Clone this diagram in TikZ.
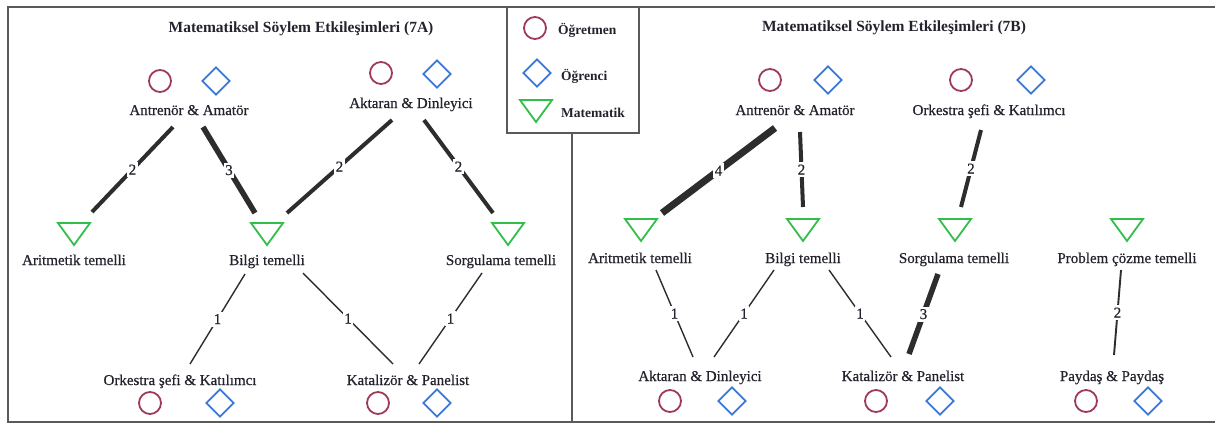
\documentclass[tikz,border=0pt]{standalone}
\usepackage{fontspec}
\setmainfont{Liberation Serif}
\newfontfamily\semibf[FakeBold=0.5]{Liberation Serif}
\usetikzlibrary{calc,shapes.geometric}
\definecolor{tcol}{RGB}{160,58,90}
\definecolor{scol}{RGB}{58,120,216}
\definecolor{mcol}{RGB}{50,190,75}
\definecolor{ecol}{RGB}{45,45,45}
\definecolor{fcol}{RGB}{90,90,90}
\definecolor{txt}{RGB}{35,35,45}
\begin{document}
\begin{tikzpicture}[x=1pt,y=-1pt,
 lbl/.style={inner sep=0pt, text height=10pt, text depth=0pt, text=txt, font=\semibf\fontsize{15}{18}\selectfont},
 ttl/.style={inner sep=0pt, text height=10pt, text depth=0pt, text=txt, font=\bfseries\fontsize{15.5}{18}\selectfont},
 leg/.style={inner sep=0pt, anchor=west, text height=9pt, text depth=0pt, text=txt, font=\bfseries\fontsize{13.5}{15}\selectfont},
 tch/.style={circle, draw=tcol, line width=1.8pt, minimum size=22pt, inner sep=0pt},
 std/.style={diamond, draw=scol, line width=1.8pt, minimum size=28pt, inner sep=0pt},
 mth/.style={inner sep=0pt, minimum size=1pt},
 tri/.style={draw=mcol, line width=1.8pt, line join=miter},
 elab/.style={fill=white, inner xsep=1.5pt, inner ysep=2.5pt, text height=10pt, text depth=0pt, text=txt, font=\semibf\fontsize{15}{17}\selectfont},
 ewa/.style={draw=ecol, line width=1.4pt},
 ewb/.style={draw=ecol, line width=1.9pt},
 ewc/.style={draw=ecol, line width=4pt},
 ewd/.style={draw=ecol, line width=5.5pt},
 ewe/.style={draw=ecol, line width=7pt},
 frame/.style={draw=fcol, line width=1.5pt}
]
\useasboundingbox (0,0) rectangle (1215,424);
\draw[frame] (8,7) rectangle (1230,422);
\draw[frame] (572,133) -- (572,422);
\draw[frame, fill=white] (507,7) rectangle (639,133);

% legend
\node[tch] (lgc) at (535,28) {};
\node[std] (lgd) at (537,73) {};
\node[mth] (lgt) at (536,111) {};
\node[leg] (lgct) at (558,30) {Öğretmen};
\node[leg] (lgdt) at (561,76) {Öğrenci};
\node[leg] (lgtt) at (561,113) {Matematik};

% titles
\node[ttl] (ttlA) at (301,27) {Matematiksel Söylem Etkileşimleri (7A)};
\node[ttl] (ttlB) at (894,26) {Matematiksel Söylem Etkileşimleri (7B)};

% ===== 7A =====
\node[lbl] (antA) at (189,110) {Antrenör \& Amatör};
\node[tch] (antAc) at (160,81) {};
\node[std] (antAd) at (216,81) {};
\node[lbl] (aktA) at (411,103) {Aktaran \& Dinleyici};
\node[tch] (aktAc) at (381,73) {};
\node[std] (aktAd) at (437,74) {};

\node[mth] (arA) at (74,234) {};
\node[mth] (bgA) at (267,234) {};
\node[mth] (soA) at (508,234) {};
\node[lbl] (arAl) at (74,260) {Aritmetik temelli};
\node[lbl] (bgAl) at (267,260) {Bilgi temelli};
\node[lbl] (soAl) at (501,260) {Sorgulama temelli};

\node[lbl] (orkA) at (180,380) {Orkestra şefi \& Katılımcı};
\node[tch] (orkAc) at (150,403) {};
\node[std] (orkAd) at (220,403) {};
\node[lbl] (katA) at (408,380) {Katalizör \& Panelist};
\node[tch] (katAc) at (378,403) {};
\node[std] (katAd) at (437,403) {};

% ===== 7B =====
\node[lbl] (antB) at (795,110) {Antrenör \& Amatör};
\node[tch] (antBc) at (770,80) {};
\node[std] (antBd) at (828,80) {};
\node[lbl] (orkB) at (989,110) {Orkestra şefi \& Katılımcı};
\node[tch] (orkBc) at (961,80) {};
\node[std] (orkBd) at (1031,80) {};

\node[mth] (arB) at (641,230) {};
\node[mth] (bgB) at (803,230) {};
\node[mth] (soB) at (955,230) {};
\node[mth] (prB) at (1127,230) {};
\node[lbl] (arBl) at (640,258) {Aritmetik temelli};
\node[lbl] (bgBl) at (803,258) {Bilgi temelli};
\node[lbl] (soBl) at (954,258) {Sorgulama temelli};
\node[lbl] (prBl) at (1127,258) {Problem çözme temelli};

\node[lbl] (aktB) at (700,376) {Aktaran \& Dinleyici};
\node[tch] (aktBc) at (670,401) {};
\node[std] (aktBd) at (732,401) {};
\node[lbl] (katB) at (903,376) {Katalizör \& Panelist};
\node[tch] (katBc) at (876,401) {};
\node[std] (katBd) at (940,401) {};
\node[lbl] (payB) at (1112,376) {Paydaş \& Paydaş};
\node[tch] (payBc) at (1086,401) {};
\node[std] (payBd) at (1148,401) {};

% triangles
\foreach \t in {lgt,arA,bgA,soA,arB,bgB,soB,prB}
  \draw[tri] (\t) ++(-16,-11) -- ++(32,0) -- ++(-16,22) -- cycle;

% edges 7A
\draw[ewc] ($(antA)+(-16,17)$) -- node[elab]{2} ($(arA)+(18,-22)$);
\draw[ewd] ($(antA)+(14,17)$) -- node[elab]{3} ($(bgA)+(-12,-21)$);
\draw[ewc] ($(aktA)+(-19,17)$) -- node[elab]{2} ($(bgA)+(20,-21)$);
\draw[ewc] ($(aktA)+(13,17)$) -- node[elab]{2} ($(soA)+(-15,-21)$);
\draw[ewa] ($(bgAl)+(-22,14)$) -- node[elab]{1} ($(orkA)+(10,-16)$);
\draw[ewa] ($(bgAl)+(36,13)$) -- node[elab]{1} ($(katA)+(-15,-16)$);
\draw[ewa] ($(soAl)+(-19,13)$) -- node[elab]{1} ($(katA)+(11,-16)$);

% edges 7B
\draw[ewe] ($(antB)+(-20,18)$) -- node[elab]{4} ($(arB)+(21,-17)$);
\draw[ewc] ($(antB)+(5,22)$) -- node[elab]{2} ($(bgB)+(0,-23)$);
\draw[ewc] ($(orkB)+(-8,20)$) -- node[elab]{2} ($(soB)+(6,-23)$);
\draw[ewa] ($(arBl)+(16,12)$) -- node[elab]{1} ($(aktB)+(-7,-19)$);
\draw[ewa] ($(bgBl)+(-29,12)$) -- node[elab]{1} ($(aktB)+(14,-19)$);
\draw[ewa] ($(bgBl)+(26,12)$) -- node[elab]{1} ($(katB)+(-12,-19)$);
\draw[ewd] ($(soBl)+(-16,16)$) -- node[elab]{3} ($(katB)+(6,-22)$);
\draw[ewb] ($(prBl)+(-6,12)$) -- node[elab]{2} ($(payB)+(2,-21)$);
\end{tikzpicture}
\end{document}
